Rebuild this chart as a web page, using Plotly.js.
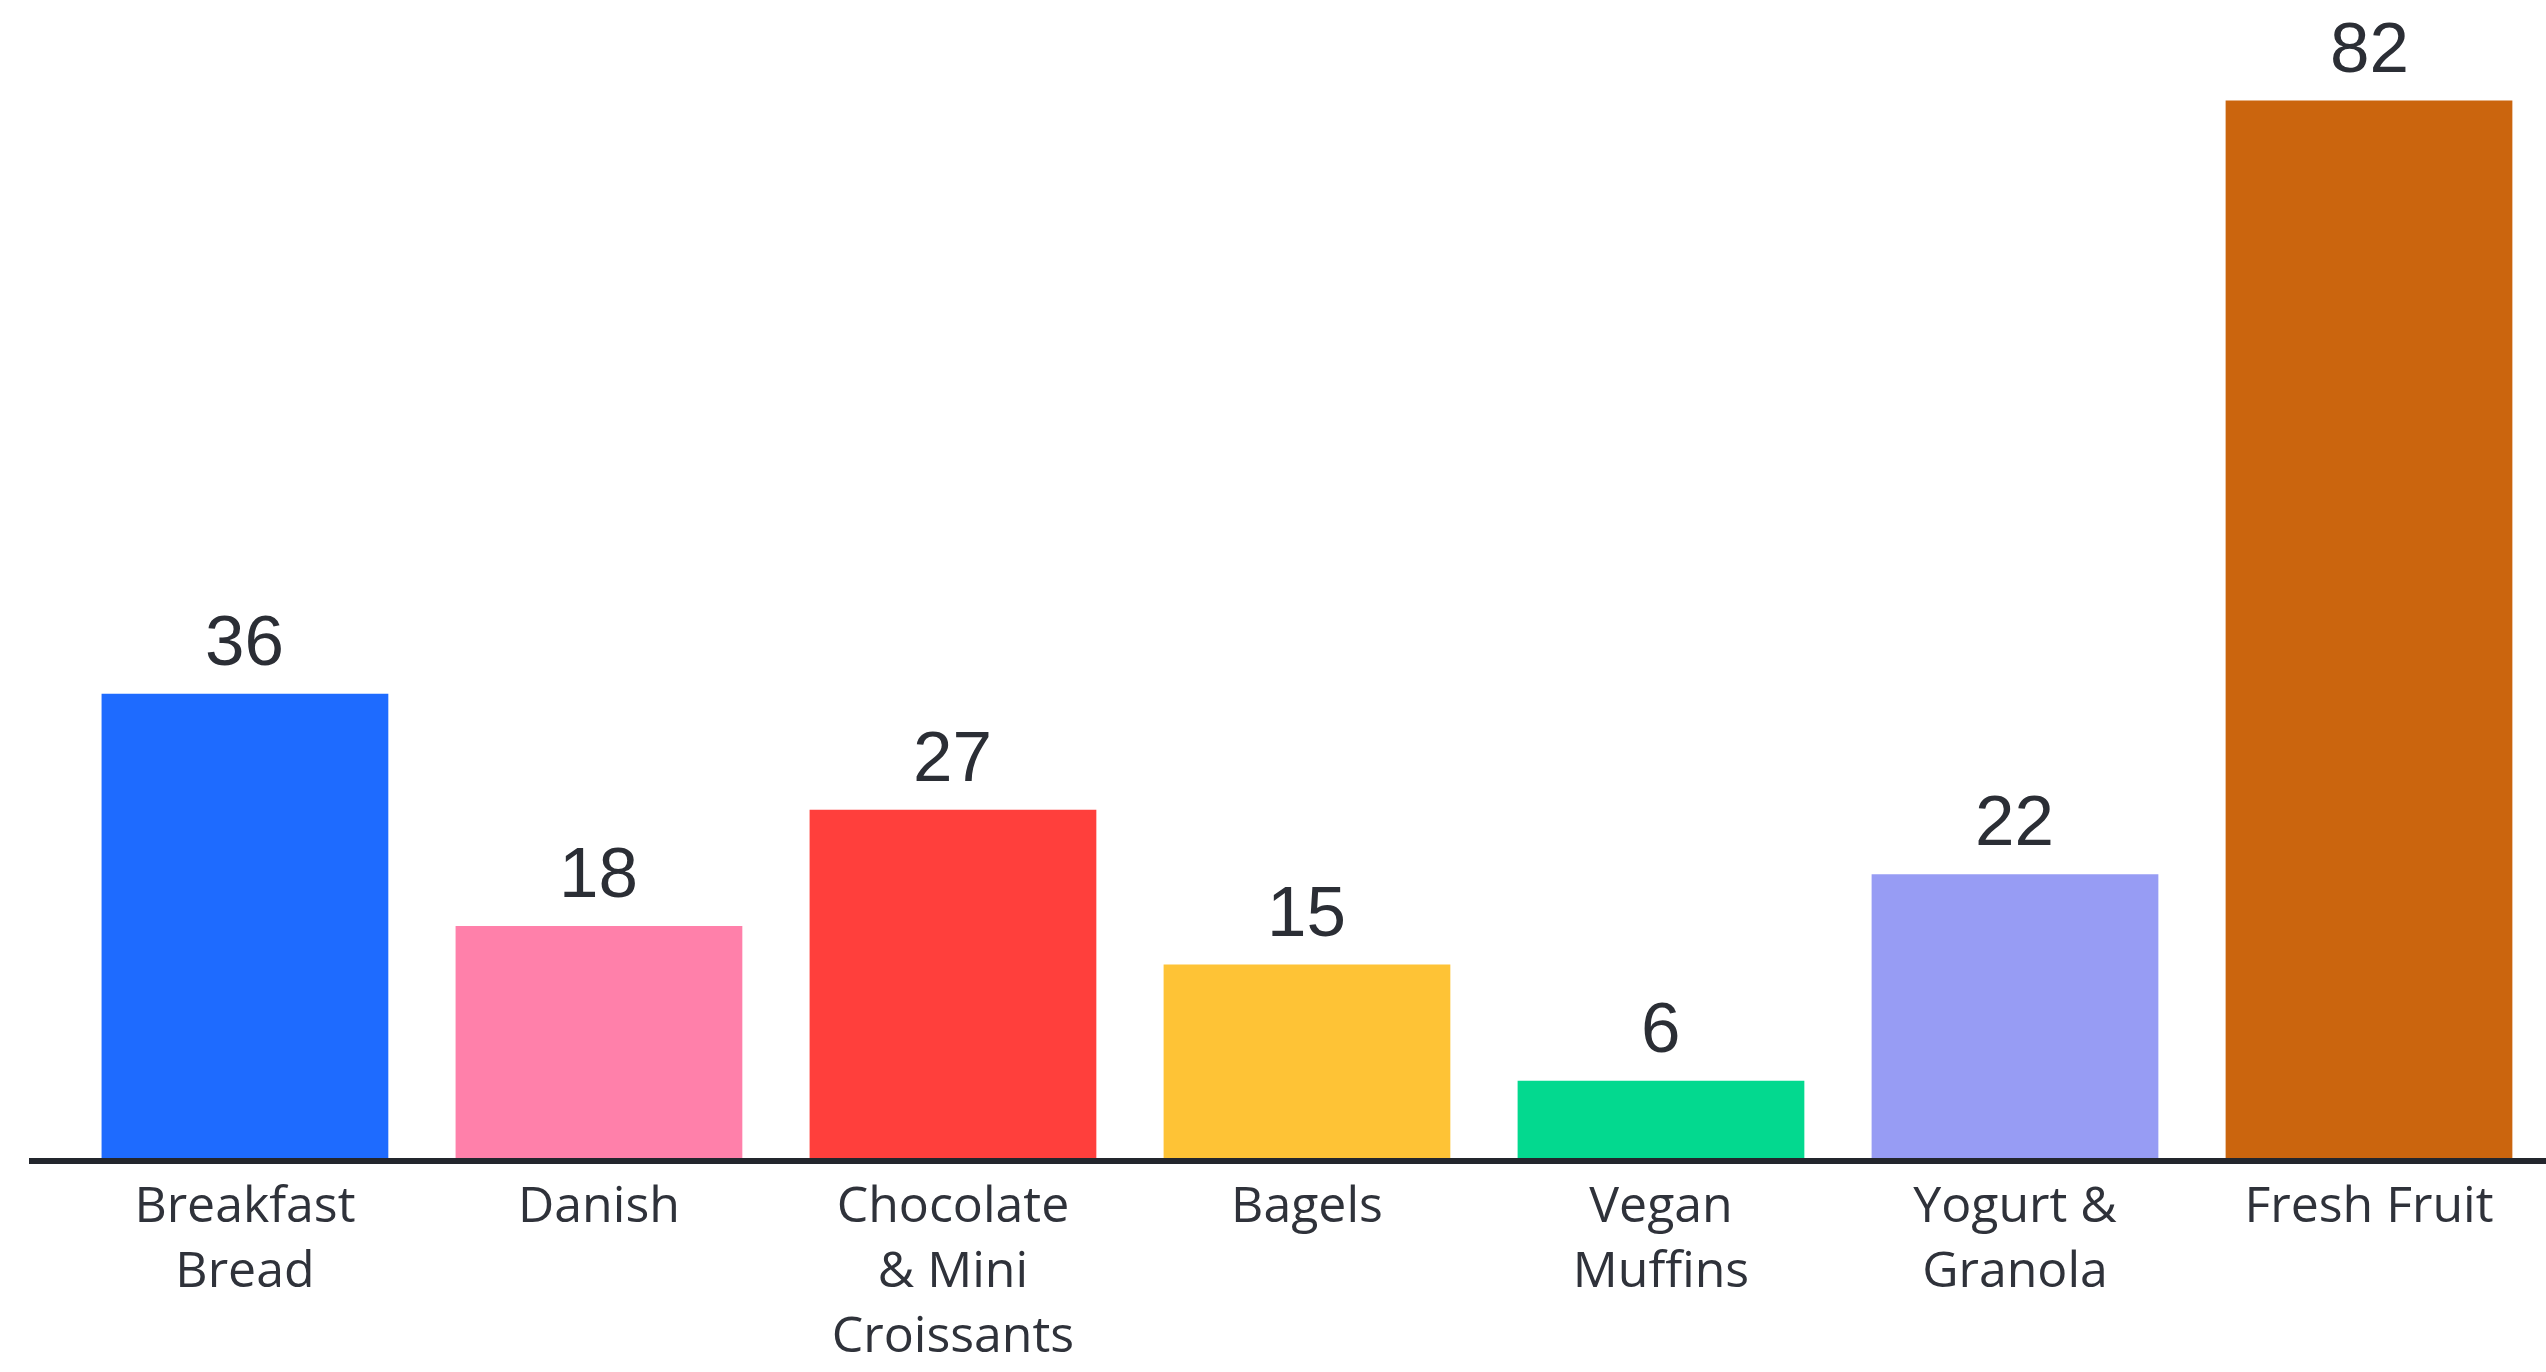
<!DOCTYPE html>
<html>
<head>
<meta charset="utf-8">
<script src="https://cdn.plot.ly/plotly-3.0.1.min.js"></script>
<style>html,body{margin:0;padding:0;background:#fff;}#chart{width:2546px;height:1372px;}</style>
</head>
<body>
<div id="chart"></div>
<script>
const categories = ["Breakfast<br>Bread", "Danish", "Chocolate<br>& Mini<br>Croissants", "Bagels", "Vegan<br>Muffins", "Yogurt &<br>Granola", "Fresh Fruit"];
const values = [36, 18, 27, 15, 6, 22, 82];
const barColors = ["#1e6bff", "#ff80aa", "#ff3f3c", "#fec336", "#03d98f", "#979cf4", "#cb650e"];

const trace = {
  type: "bar",
  x: categories,
  y: values,
  marker: {color: barColors, line: {width: 0}},
  cliponaxis: false,
  hoverinfo: "none"
};

const valueLabels = categories.map((c, i) => ({
  x: c,
  y: values[i],
  xref: "x",
  yref: "y",
  text: String(values[i]),
  showarrow: false,
  yanchor: "bottom",
  yshift: 12,
  font: {family: "Liberation Sans, Arial, sans-serif", size: 71, color: "#2b2e35"}
}));

const layout = {
  width: 2546,
  height: 1372,
  margin: {l: 29, r: 0, t: 0, b: 214, pad: 0},
  paper_bgcolor: "#ffffff",
  plot_bgcolor: "#ffffff",
  bargap: 0.19,
  showlegend: false,
  annotations: valueLabels,
  xaxis: {
    type: "category",
    range: [-0.61, 6.5],
    showline: true,
    linecolor: "#23262d",
    linewidth: 6,
    ticks: "",
    ticklabelstandoff: -2,
    showgrid: false,
    zeroline: false,
    tickfont: {family: "Open Sans, Liberation Sans, sans-serif", size: 50, color: "#2f323a"},
    automargin: false
  },
  yaxis: {
    range: [0, 89.8],
    visible: false,
    showgrid: false,
    zeroline: false
  }
};

Plotly.newPlot("chart", [trace], layout, {staticPlot: true, displayModeBar: false});
</script>
</body>
</html>
